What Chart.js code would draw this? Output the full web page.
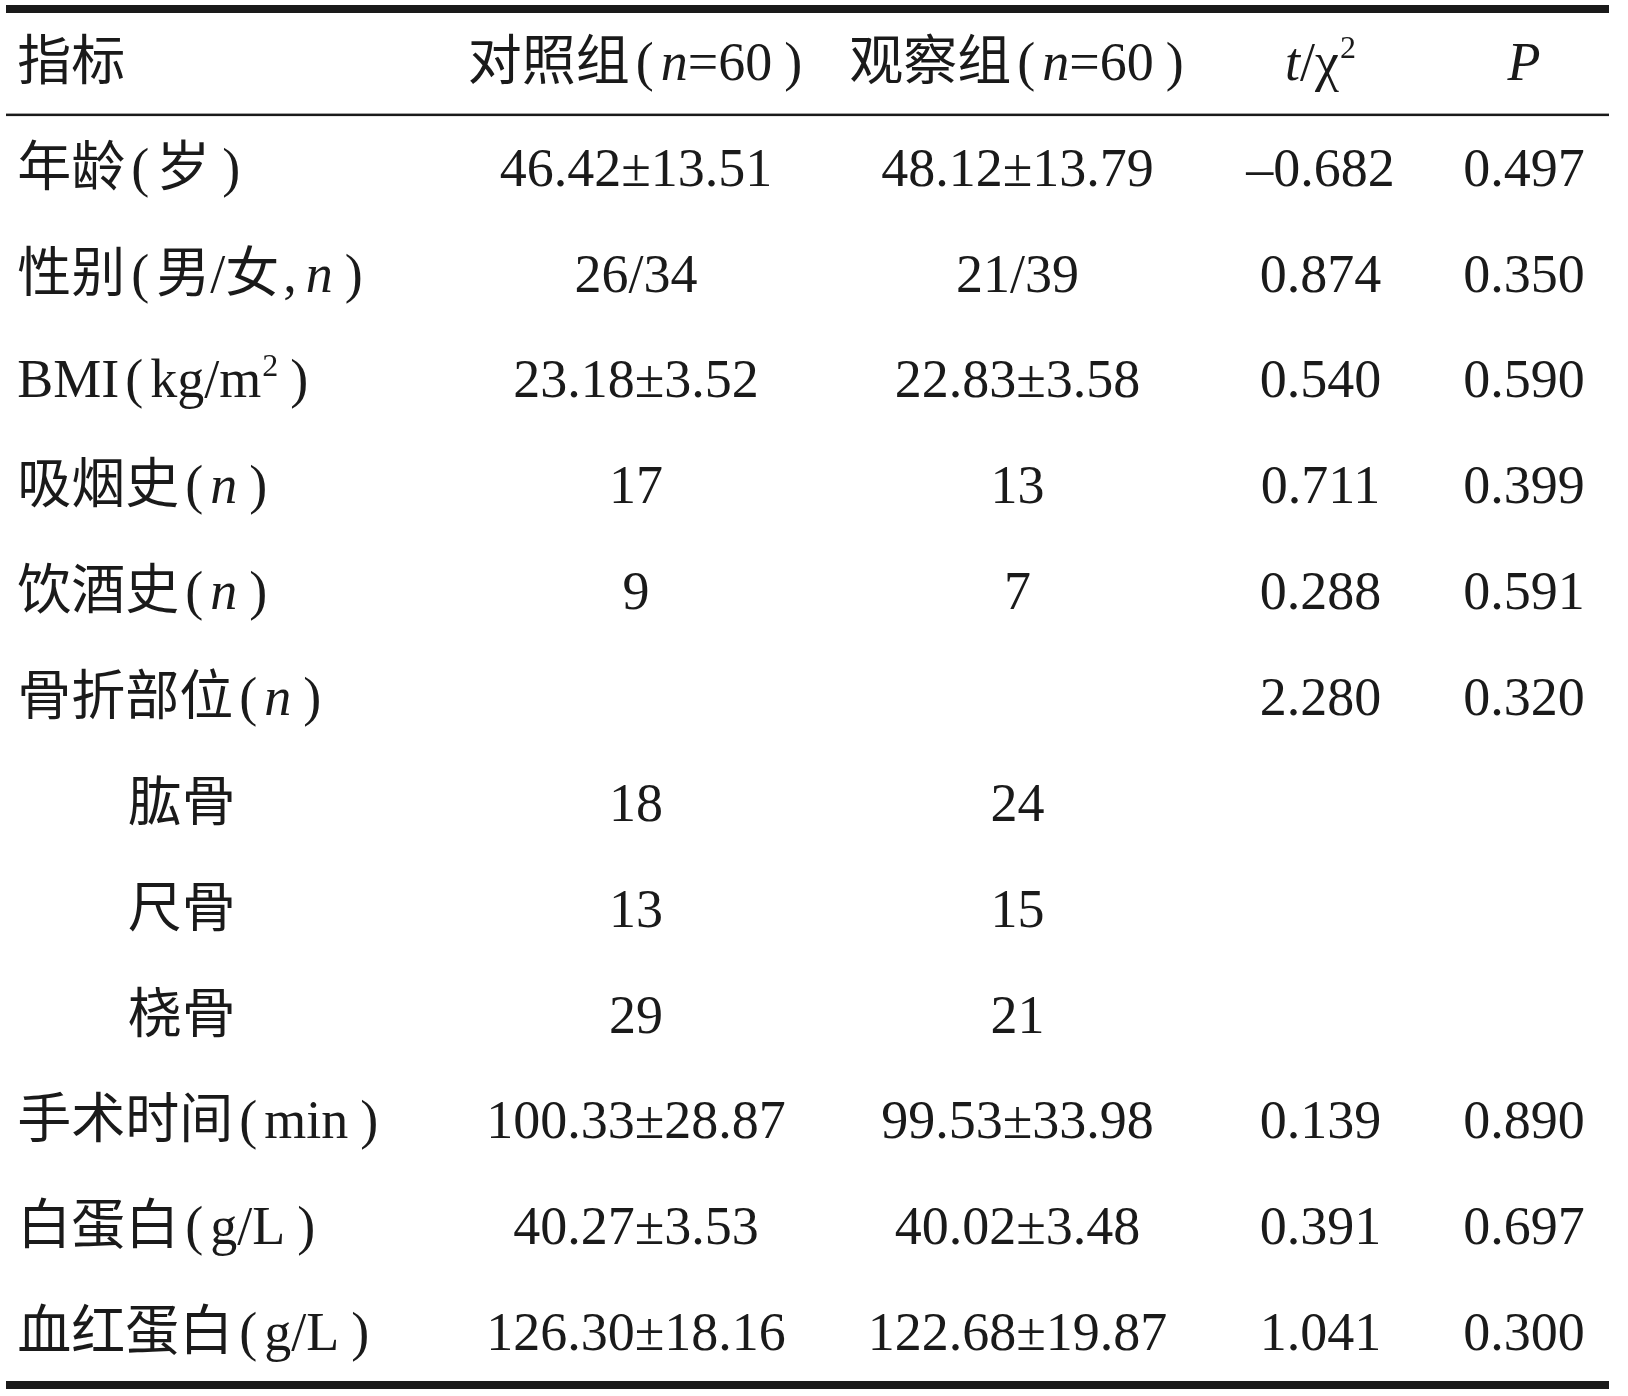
<!DOCTYPE html>
<html>
<head>
<meta charset="utf-8">
<script src="https://cdn.jsdelivr.net/npm/chart.js@4/dist/chart.umd.min.js"></script>
<style>
  html, body { margin: 0; padding: 0; background: #ffffff; }
  canvas { display: block; }
</style>
</head>
<body>
<canvas id="tableChart" width="1628" height="1396"></canvas>
<script>
// table content, one list per column
const HEADERS = ['指标', '对照组(<i>n</i>=60)', '观察组(<i>n</i>=60)', '<i>t</i>/χ<sup>2</sup>', '<i>P</i>'];
const ROW_LABELS = [
   '年龄(岁)', '性别(男/女,<i>n</i>)', 'BMI(kg/m<sup>2</sup>)', '吸烟史(<i>n</i>)', '饮酒史(<i>n</i>)',
   '骨折部位(<i>n</i>)', '肱骨', '尺骨', '桡骨', '手术时间(min)', '白蛋白(g/L)', '血红蛋白(g/L)'
];
const ROW_INDENT = [0, 0, 0, 0, 0, 0, 1, 1, 1, 0, 0, 0];
const CONTROL = ['46.42±13.51', '26/34', '23.18±3.52', '17', '9', '', '18', '13', '29', '100.33±28.87', '40.27±3.53', '126.30±18.16'];
const OBSERVE = ['48.12±13.79', '21/39', '22.83±3.58', '13', '7', '', '24', '15', '21', '99.53±33.98', '40.02±3.48', '122.68±19.87'];
const STAT = ['–0.682', '0.874', '0.540', '0.711', '0.288', '2.280', '', '', '', '0.139', '0.391', '1.041'];
const PVAL = ['0.497', '0.350', '0.590', '0.399', '0.591', '0.320', '', '', '', '0.890', '0.697', '0.300'];

// layout: column anchors in percent of table width (label, indented label, 4 value columns)
const COLUMN_X = [0.7, 7.6, 39.3, 63.1, 82.0, 94.7];
const TEXT_SIZE = 54;
const TEXT_COLOR = '#1a1a1a';
const FONT_FAMILY = "'Liberation Serif', 'Noto Sans CJK SC', serif";

// split simple markup into runs (italic, superscript, brackets get a bit of extra room)
function toRuns(markup) {
   const runs = [];
   const re = /<(i|sup)>(.*?)<\/\1>|([^<]+)/g;
   let m;
   while ((m = re.exec(markup)) !== null) {
      if (m[1]) {
         runs.push({ text: m[2], italic: m[1] === 'i', sup: m[1] === 'sup', before: m[1] === 'sup' ? 1 : 0, after: 0 });
         continue;
      }
      for (const ch of m[3]) {
         let before = 0, after = 0;
         if (ch === '(') { before = 6; after = 7; }
         if (ch === ')') { before = 12; after = 2; }
         if (ch === ',') { before = 4; after = 9; }
         const last = runs[runs.length - 1];
         if (!before && !after && last && last.plain) {
            last.text += ch;
         } else {
            runs.push({ text: ch, italic: false, sup: false, before: before, after: after, plain: !before && !after });
         }
      }
   }
   return runs;
}

function runFont(run) {
   const size = run.sup ? Math.round(TEXT_SIZE * 0.6) : TEXT_SIZE;
   return (run.italic ? 'italic ' : '') + size + 'px ' + FONT_FAMILY;
}

function drawRich(ctx, markup, x, baseline, align) {
   if (!markup) return;
   const runs = toRuns(markup);
   let total = 0;
   runs.forEach(r => {
      ctx.font = runFont(r);
      r.width = ctx.measureText(r.text).width;
      total += r.before + r.width + r.after;
   });
   let cx = align === 'center' ? x - total / 2 : x;
   ctx.textAlign = 'left';
   ctx.textBaseline = 'alphabetic';
   runs.forEach(r => {
      ctx.font = runFont(r);
      cx += r.before;
      ctx.fillText(r.text, cx, r.sup ? baseline - TEXT_SIZE * 0.4 : baseline);
      cx += r.width + r.after;
   });
}

const tablePlugin = {
   id: 'tablePlugin',
   beforeDatasetsDraw(chart) {
      const { ctx, chartArea, scales } = chart;
      const rules = [[-0.5, 8], [0.5, 2.5], [ROW_LABELS.length + 0.5, 8]];
      ctx.save();
      ctx.fillStyle = TEXT_COLOR;
      rules.forEach(([v, w]) => {
         const py = scales.y.getPixelForValue(v);
         ctx.fillRect(chartArea.left, py - w / 2, chartArea.right - chartArea.left, w);
      });
      ctx.restore();
   },
   afterDatasetsDraw(chart) {
      const ctx = chart.ctx;
      ctx.save();
      ctx.fillStyle = TEXT_COLOR;
      chart.data.datasets.forEach((ds, d) => {
         chart.getDatasetMeta(d).data.forEach((pt, i) => {
            drawRich(ctx, ds.data[i].t, pt.x, pt.y + TEXT_SIZE / 3, ds.textAlign);
         });
      });
      ctx.restore();
   }
};

const cell = (row, col, t) => ({ x: COLUMN_X[col], y: row, t: t });

function valueColumn(header, values, col) {
   return {
      textAlign: 'center',
      data: [cell(0, col, header)].concat(values.map((t, i) => cell(i + 1, col, t)))
   };
}

new Chart(document.getElementById('tableChart'), {
   type: 'scatter',
   data: {
      datasets: [
         {
            textAlign: 'left',
            data: [cell(0, 0, HEADERS[0])].concat(ROW_LABELS.map((t, i) => cell(i + 1, ROW_INDENT[i] ? 1 : 0, t)))
         },
         valueColumn(HEADERS[1], CONTROL, 2),
         valueColumn(HEADERS[2], OBSERVE, 3),
         valueColumn(HEADERS[3], STAT, 4),
         valueColumn(HEADERS[4], PVAL, 5)
      ]
   },
   options: {
      responsive: false,
      animation: false,
      events: [],
      elements: { point: { radius: 0, hoverRadius: 0 } },
      layout: { padding: { top: 9, bottom: 11, left: 6, right: 19 } },
      plugins: { legend: { display: false }, tooltip: { enabled: false } },
      scales: {
         x: { type: 'linear', min: 0, max: 100, display: false },
         y: { type: 'linear', min: -0.5, max: ROW_LABELS.length + 0.5, reverse: true, display: false }
      }
   },
   plugins: [tablePlugin]
});
</script>
</body>
</html>
